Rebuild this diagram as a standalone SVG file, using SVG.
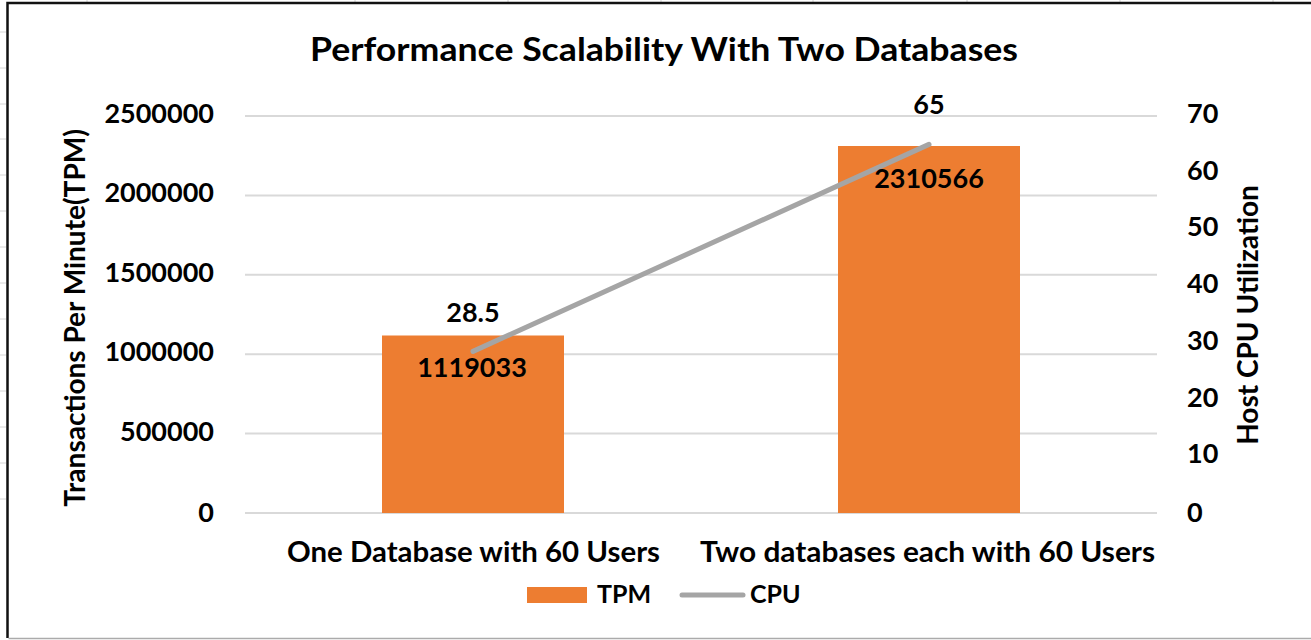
<svg xmlns="http://www.w3.org/2000/svg" width="1311" height="640" viewBox="0 0 1311 640">
  <style>
    text { font-family: Lato, "Liberation Sans", sans-serif; font-weight: bold; fill: #000; }
    .tick { font-size: 27px; }
    .title { font-size: 33px; }
    .cat { font-size: 28px; text-anchor: middle; }
    .dl { font-size: 27px; text-anchor: middle; }
    .axt { font-size: 28px; text-anchor: middle; }
    .leg { font-size: 25px; }
    .grid { stroke: #D9D9D9; stroke-width: 2; }
    .cell { stroke: #D4D4D4; stroke-width: 1; }
    .bar { fill: #ED7D31; }
    .cpu { stroke: #A5A5A5; stroke-width: 5; stroke-linecap: round; fill: none; }
  </style>

  <rect width="1311" height="640" fill="#fff"/>

  <!-- worksheet cell lines showing around the chart frame -->
  <g id="sheet-cells">
    <path class="cell" d="M0 32H6M0 68H6M0 104H6M0 139H6M0 175H6M0 211H6M0 247H6M0 283H6M0 319H6M0 355H6M0 391H6M0 427H6M0 463H6M0 499H6"/>
    <path class="cell" d="M87 0V2M355 0V2M508 0V2M661 0V2M813 0V2M967 0V2M1120 0V2M1273 0V2"/>
  </g>

  <!-- chart frame -->
  <g id="frame">
    <path d="M1311 3H7.5V638" fill="none" stroke="#111" stroke-width="2.5"/>
    <path d="M8.5 638.5H1311" fill="none" stroke="#ABABAB" stroke-width="1.5"/>
  </g>

  <!-- title -->
  <text id="title" class="title" x="664" y="61" text-anchor="middle" textLength="708" lengthAdjust="spacingAndGlyphs">Performance Scalability With Two Databases</text>

  <!-- horizontal gridlines -->
  <g id="gridlines">
    <line class="grid" x1="245" y1="116" x2="1157" y2="116"/>
    <line class="grid" x1="245" y1="195.4" x2="1157" y2="195.4"/>
    <line class="grid" x1="245" y1="274.8" x2="1157" y2="274.8"/>
    <line class="grid" x1="245" y1="354.2" x2="1157" y2="354.2"/>
    <line class="grid" x1="245" y1="433.6" x2="1157" y2="433.6"/>
    <line class="grid" x1="245" y1="513" x2="1157" y2="513"/>
  </g>

  <!-- primary axis (TPM) -->
  <g id="axis-left" text-anchor="end">
    <text class="tick" x="214" y="123">2500000</text>
    <text class="tick" x="214" y="202.4">2000000</text>
    <text class="tick" x="214" y="281.8">1500000</text>
    <text class="tick" x="214" y="361.2">1000000</text>
    <text class="tick" x="214" y="440.6">500000</text>
    <text class="tick" x="214" y="521.5">0</text>
    <text class="axt" transform="translate(85 318) rotate(-90)">Transactions Per Minute(TPM)</text>
  </g>

  <!-- secondary axis (CPU) -->
  <g id="axis-right">
    <text class="tick" x="1187" y="123">70</text>
    <text class="tick" x="1187" y="179.7">60</text>
    <text class="tick" x="1187" y="236.4">50</text>
    <text class="tick" x="1187" y="293.1">40</text>
    <text class="tick" x="1187" y="349.8">30</text>
    <text class="tick" x="1187" y="406.5">20</text>
    <text class="tick" x="1187" y="463.2">10</text>
    <text class="tick" x="1187" y="521.5">0</text>
    <text class="axt" transform="translate(1258 315) rotate(-90)">Host CPU Utilization</text>
  </g>

  <!-- TPM bars -->
  <g id="bar-one-db">
    <rect class="bar" x="382" y="335.5" width="182" height="177.5"/>
  </g>
  <g id="bar-two-db">
    <rect class="bar" x="838" y="146" width="182" height="367"/>
  </g>

  <!-- CPU series -->
  <g id="connectors">
    <polyline class="cpu" points="473,351.4 929,144.4"/>
  </g>

  <!-- data labels -->
  <g id="data-labels">
    <text class="dl" x="473" y="321.5">28.5</text>
    <text class="dl" x="472" y="377">1119033</text>
    <text class="dl" x="929" y="114">65</text>
    <text class="dl" x="929" y="188">2310566</text>
  </g>

  <!-- category axis -->
  <g id="categories">
    <text class="cat" x="473.5" y="562" textLength="373" lengthAdjust="spacingAndGlyphs">One Database with 60 Users</text>
    <text class="cat" x="927.5" y="562" textLength="455" lengthAdjust="spacingAndGlyphs">Two databases each with 60 Users</text>
  </g>

  <!-- legend -->
  <g id="legend">
    <rect class="bar" x="527" y="587" width="60" height="16"/>
    <text class="leg" x="597" y="603">TPM</text>
    <line class="cpu" x1="682" y1="595" x2="743" y2="595"/>
    <text class="leg" x="750" y="603">CPU</text>
  </g>
</svg>
